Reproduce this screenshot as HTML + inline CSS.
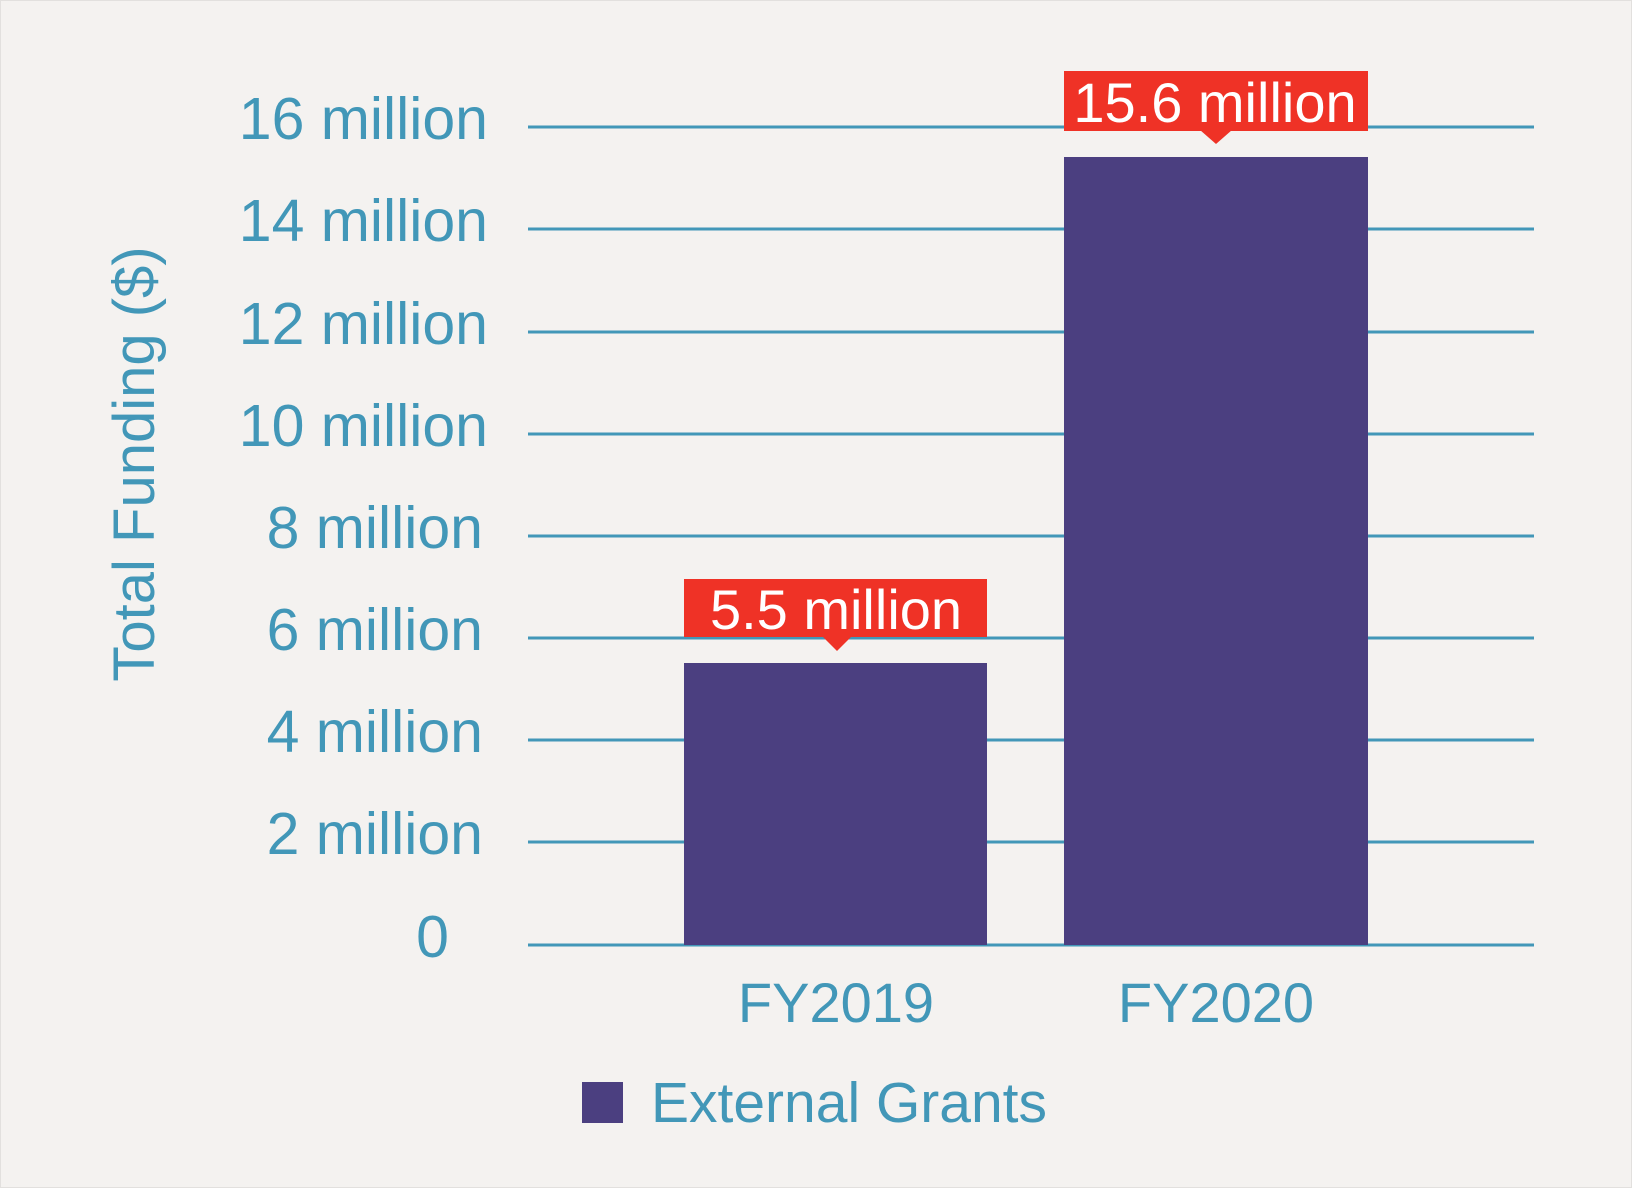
<!DOCTYPE html>
<html><head><meta charset="utf-8"><style>
html,body{margin:0;padding:0;background:#f4f2f0;}
svg{display:block}
text{font-family:"Liberation Sans",sans-serif;}
</style></head><body>
<svg width="1632" height="1188" viewBox="0 0 1632 1188" xmlns="http://www.w3.org/2000/svg">
<rect x="0" y="0" width="1632" height="1188" fill="#f4f2f0"/>
<rect x="0.5" y="0.5" width="1631" height="1187" fill="none" stroke="#e2e0de" stroke-width="1"/>
<g stroke="#4297b8" stroke-width="3">
<line x1="528" x2="1534" y1="127" y2="127"/>
<line x1="528" x2="1534" y1="229" y2="229"/>
<line x1="528" x2="1534" y1="332" y2="332"/>
<line x1="528" x2="1534" y1="434" y2="434"/>
<line x1="528" x2="1534" y1="536" y2="536"/>
<line x1="528" x2="1534" y1="638" y2="638"/>
<line x1="528" x2="1534" y1="740" y2="740"/>
<line x1="528" x2="1534" y1="842" y2="842"/>
<line x1="528" x2="1534" y1="945" y2="945"/>
</g>
<g fill="#4297b8" font-size="59" text-anchor="end">
<text x="488" y="139">16 million</text>
<text x="488" y="241">14 million</text>
<text x="488" y="344">12 million</text>
<text x="488" y="446">10 million</text>
<text x="483" y="548">8 million</text>
<text x="483" y="650">6 million</text>
<text x="483" y="752">4 million</text>
<text x="483" y="854">2 million</text>
<text x="449" y="957">0</text>
</g>
<text transform="translate(154,464) rotate(-90)" fill="#4297b8" font-size="58" text-anchor="middle">Total Funding ($)</text>
<rect x="684" y="663" width="303" height="282" fill="#4b3f80"/>
<rect x="1064" y="157" width="304" height="788" fill="#4b3f80"/>
<rect x="684" y="579" width="303" height="58" fill="#ef3226"/>
<polygon points="822,636 852,636 837,651" fill="#ef3226"/>
<text x="836" y="629" fill="#fff" font-size="56" text-anchor="middle">5.5 million</text>
<rect x="1064" y="71" width="304" height="60" fill="#ef3226"/>
<polygon points="1200,130 1232,130 1216,144" fill="#ef3226"/>
<text x="1215" y="122" fill="#fff" font-size="56" text-anchor="middle">15.6 million</text>
<g fill="#4297b8" font-size="56" text-anchor="middle">
<text x="836" y="1022">FY2019</text>
<text x="1216" y="1022">FY2020</text>
</g>
<rect x="582" y="1082" width="41" height="41" fill="#4b3f80"/>
<text x="651" y="1122" fill="#4297b8" font-size="57">External Grants</text>
</svg>
</body></html>
